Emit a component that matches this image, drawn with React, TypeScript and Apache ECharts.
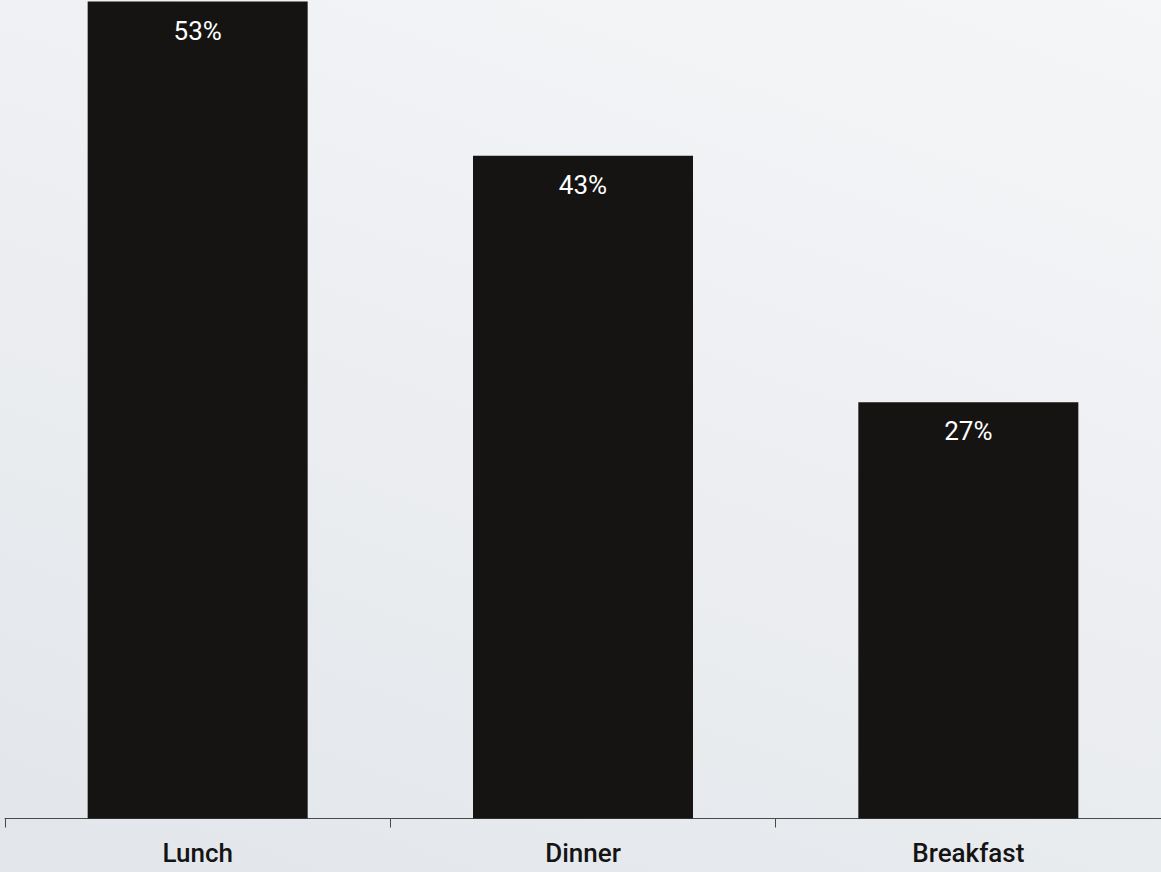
import React, { useEffect, useRef } from "react";
import * as echarts from "echarts";

const categories = ["Lunch", "Dinner", "Breakfast"];
const values = [53, 43, 27];

export default function App() {
  const ref = useRef<HTMLDivElement>(null);
  useEffect(() => {
    document.body.style.margin = "0";
    const chart = echarts.init(ref.current!, null, { renderer: "svg" });
    chart.setOption({
      animation: false,
      backgroundColor: "transparent",
      grid: { left: 5, right: 0, top: 1.5, bottom: 53.5, containLabel: false },
      xAxis: {
        type: "category",
        data: categories,
        axisLine: { lineStyle: { color: "#4a4a4a", width: 1 } },
        axisTick: { show: true, length: 9, lineStyle: { color: "#4a4a4a" } },
        axisLabel: {
          color: "#141414",
          fontFamily: "Roboto",
          fontWeight: 500,
          fontSize: 26,
          margin: 21,
        },
      },
      yAxis: { type: "value", min: 0, max: 53, show: false, splitLine: { show: false } },
      series: [
        {
          type: "bar",
          data: values,
          barWidth: 220,
          itemStyle: { color: "#151412" },
          label: {
            show: true,
            position: "insideTop",
            distance: 16,
            color: "#ffffff",
            fontFamily: "Roboto",
            fontWeight: 400,
            fontSize: 26,
            formatter: (p: any) => p.value + "%",
          },
        },
      ],
    });
    return () => chart.dispose();
  }, []);
  return (
    <div
      style={{
        position: "absolute",
        left: 0,
        top: 0,
        width: 1161,
        height: 872,
        background: "linear-gradient(20deg, #e2e6ea 0%, #eceef1 50%, #f5f6f8 100%)",
      }}
    >
      <div ref={ref} style={{ width: 1161, height: 872 }} />
    </div>
  );
}
